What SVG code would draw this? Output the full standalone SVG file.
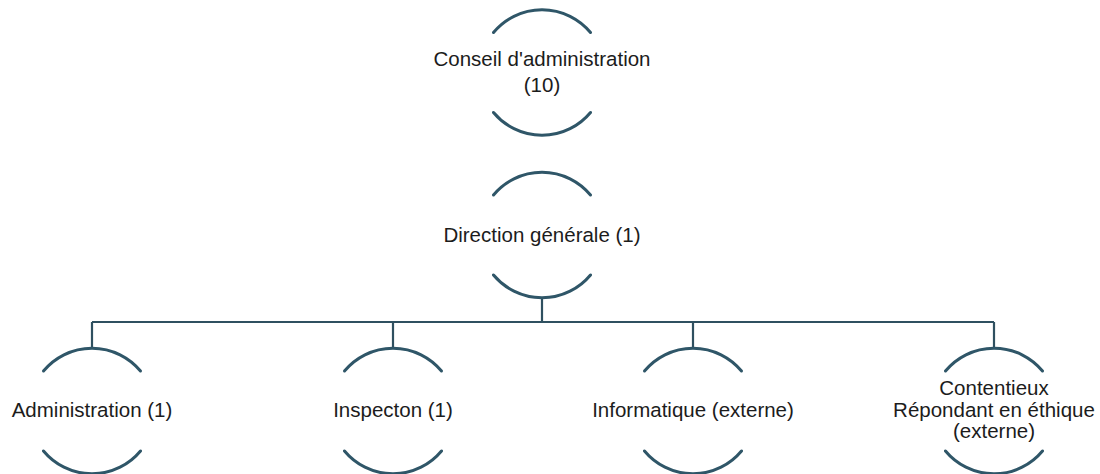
<svg xmlns="http://www.w3.org/2000/svg" width="1100" height="474" viewBox="0 0 1100 474">
<style>
.arc{fill:none;stroke:#2f5668;stroke-width:3;stroke-linecap:round}
.con{fill:none;stroke:#2f5060;stroke-width:2.2}
text{font-family:"Liberation Sans",Arial,sans-serif;font-size:20.5px;fill:#1c1c1c;text-anchor:middle}
</style>
<rect width="1100" height="474" fill="#ffffff"/>
<g id="connectors">
<path class="con" d="M542,298 V322 M92,322 H994 M92,322 V348 M393,322 V348 M693,322 V348 M994,322 V348"/>
</g>
<g id="conseil">
<path class="arc" d="M493.5,32.5 A63,63 0 0 1 590.5,32.5"/>
<path class="arc" d="M493.5,112.5 A63,63 0 0 0 590.5,112.5"/>
<text x="542" y="66">Conseil d'administration</text>
<text x="542" y="92">(10)</text>
</g>
<g id="direction">
<path class="arc" d="M493.5,195 A63,63 0 0 1 590.5,195"/>
<path class="arc" d="M493.5,275 A63,63 0 0 0 590.5,275"/>
<text x="542" y="242">Direction générale (1)</text>
</g>
<g id="administration">
<path class="arc" d="M43.5,371 A63,63 0 0 1 140.5,371"/>
<path class="arc" d="M43.5,451 A63,63 0 0 0 140.5,451"/>
<text x="92" y="417">Administration (1)</text>
</g>
<g id="inspection">
<path class="arc" d="M344.5,371 A63,63 0 0 1 441.5,371"/>
<path class="arc" d="M344.5,451 A63,63 0 0 0 441.5,451"/>
<text x="393" y="417">Inspecton (1)</text>
</g>
<g id="informatique">
<path class="arc" d="M644.5,371 A63,63 0 0 1 741.5,371"/>
<path class="arc" d="M644.5,451 A63,63 0 0 0 741.5,451"/>
<text x="693" y="417">Informatique (externe)</text>
</g>
<g id="contentieux">
<path class="arc" d="M945.5,371 A63,63 0 0 1 1042.5,371"/>
<path class="arc" d="M945.5,451 A63,63 0 0 0 1042.5,451"/>
<text x="994" y="395">Contentieux</text>
<text x="994" y="417">Répondant en éthique</text>
<text x="994" y="438">(externe)</text>
</g>
</svg>
